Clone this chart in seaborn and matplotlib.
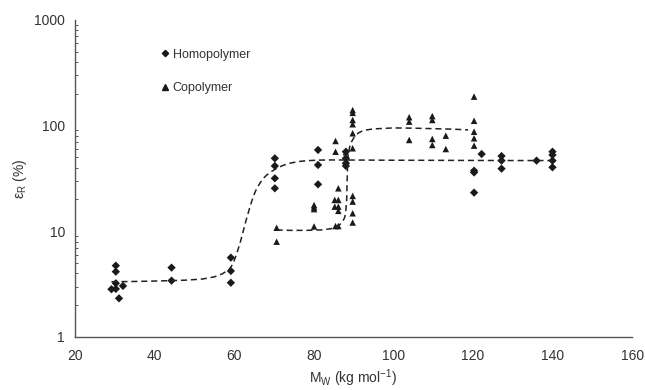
import numpy as np
import pandas as pd
import matplotlib
matplotlib.use("Agg")
import matplotlib.pyplot as plt
import seaborn as sns
from matplotlib.lines import Line2D
from matplotlib.ticker import LogLocator, NullFormatter

# ---- data ----
homo_mw = [30.3, 30.3, 30.3, 29.2, 30.3, 32.1, 31.1,
           44.3, 44.3,
           59.2, 59.2, 59.2,
           70.25, 70.25, 70.25, 70.25,
           81.1, 81.1, 81.1,
           88.1, 88.1, 88.1, 88.1,
           122.2, 120.3, 120.3, 120.3,
           127.2, 127.2, 127.2,
           136.0,
           140.0, 140.0, 140.0, 140.0]
homo_eps = [4.73, 4.15, 3.22, 2.83, 2.85, 3.04, 2.32,
            4.53, 3.41,
            5.63, 4.21, 3.26,
            49.0, 41.5, 31.7, 25.5,
            58.8, 42.4, 27.8,
            56.6, 49.0, 44.0, 41.5,
            53.8, 37.4, 36.0, 23.2,
            51.5, 46.6, 39.1,
            46.6,
            56.6, 52.7, 46.6, 40.3]

co_mw = [70.7, 70.7,
         80.1, 80.1, 80.1, 80.1,
         85.5, 85.5, 86.2,
         85.3, 85.3, 86.2, 86.2, 86.2,
         85.5, 86.2,
         89.8, 89.8, 89.8, 89.8, 89.8, 89.8, 89.8, 89.8, 89.8, 89.8,
         88.1,
         104.0, 104.0, 104.0,
         109.8, 109.8, 109.8, 109.8,
         113.2, 113.2,
         120.3, 120.3, 120.3, 120.3, 120.3]
co_eps = [10.8, 7.97,
          17.7, 16.9, 16.2, 11.1,
          71.5, 56.6, 25.5,
          19.8, 17.1, 19.8, 17.1, 15.6,
          11.2, 11.2,
          140, 132, 113, 103, 84.6, 61, 21.6, 19.1, 14.8, 12.1,
          56.0,
          120, 109, 73.1,
          123, 113, 74.7, 65.5,
          80.3, 60.0,
          188, 111, 87.5, 75.8, 64.6]

# dashed trend curves
homo_fit_mw = [29.2, 35, 40, 44, 48, 52, 55, 57, 58.8, 59.8, 60.7, 61.5, 62.3, 63.1,
               64.0, 64.8, 65.6, 66.5, 67.3, 68.2, 69.5, 70.7, 72.3, 74.0, 76.0,
               78.2, 81.0, 84.1, 90, 100, 110, 120, 130, 140]
homo_fit_eps = [3.33, 3.35, 3.38, 3.41, 3.45, 3.53, 3.7, 3.95, 4.35, 4.98, 6.2, 7.7,
                10.0, 13.0, 17.0, 21.2, 25.0, 28.5, 31.5, 34.0, 37.0, 39.4, 42.0, 44.0,
                45.6, 46.5, 47.1, 47.3, 47.2, 47.0, 46.9, 46.8, 46.7, 46.7]
co_fit_mw = [70.7, 74, 78, 82, 84.5, 85.8, 86.6, 87.3, 87.8, 88.1, 88.3, 88.4, 88.5,
             88.7, 89.0, 89.5, 90.2, 91.2, 92.5, 95, 100, 105, 110, 115, 118.8]
co_fit_eps = [10.3, 10.2, 10.2, 10.3, 10.6, 11.0, 11.6, 12.4, 13.5, 15.9, 20.0, 28.5,
              40.8, 52.0, 62.0, 70.0, 78.0, 85.0, 90.0, 93.0, 95.0, 94.5, 93.5, 92.5, 91.0]

x_ticks = [20, 40, 60, 80, 100, 120, 140, 160]
y_ticks = [1, 10, 100, 1000]
y_ticklabels = ["1", "10", "100", "1000"]

# ---- figure ----
sns.set_theme(style="white")
plt.rcParams["font.family"] = ["Liberation Sans", "DejaVu Sans"]

fig = plt.figure(figsize=(6.45, 3.9), dpi=100)
ax = fig.add_axes([0.116, 0.136, 0.864, 0.813])

mark_col = "#1a1a1a"
homo_df = pd.DataFrame({"Mw": homo_mw, "eps": homo_eps})
co_df = pd.DataFrame({"Mw": co_mw, "eps": co_eps})
sns.scatterplot(data=homo_df, x="Mw", y="eps", marker="D", color=mark_col,
                edgecolor="none", s=18, ax=ax, legend=False)
sns.scatterplot(data=co_df, x="Mw", y="eps", marker="^", color=mark_col,
                edgecolor="none", s=22, ax=ax, legend=False)

fit_h = pd.DataFrame({"Mw": homo_fit_mw, "eps": homo_fit_eps})
fit_c = pd.DataFrame({"Mw": co_fit_mw, "eps": co_fit_eps})
for f in (fit_h, fit_c):
    sns.lineplot(data=f, x="Mw", y="eps", color="#222222", lw=1.1,
                 linestyle=(0, (4, 2.5)), ax=ax, sort=False)

ax.set_yscale("log")
ax.set_xlim(20, 160)
ax.set_ylim(1, 1000)
ax.set_xticks(x_ticks)
ax.set_yticks(y_ticks)
ax.set_yticklabels(y_ticklabels)
ax.yaxis.set_minor_locator(LogLocator(base=10, subs=np.arange(2, 10)))
ax.yaxis.set_minor_formatter(NullFormatter())

for s in ("top", "right"):
    ax.spines[s].set_visible(False)
for s in ("left", "bottom"):
    ax.spines[s].set_color("#555555")
    ax.spines[s].set_linewidth(1.0)

ax.tick_params(axis="both", which="major", direction="in", length=4, width=0.8,
               colors="#555555", labelcolor="#333333", labelsize=10, pad=7)
ax.tick_params(axis="x", which="major", pad=9)
ax.tick_params(axis="y", which="minor", direction="in", length=2.5, width=0.7,
               colors="#555555", left=True)

ax.set_xlabel("M$_\\mathregular{W}$ (kg mol$^\\mathregular{-1}$)", fontsize=10,
              color="#333333", labelpad=3)
ax.set_ylabel("ε$_\\mathregular{R}$ (%)", fontsize=10, color="#333333", labelpad=4)

handles = [
    Line2D([], [], marker="D", linestyle="none", color=mark_col, markersize=3.2),
    Line2D([], [], marker="^", linestyle="none", color=mark_col, markersize=4.2),
]
ax.legend(handles, ["Homopolymer", "Copolymer"], loc="upper left",
          bbox_to_anchor=(0.135, 0.945), frameon=False, fontsize=9,
          handlelength=0.6, handletextpad=0.3, labelspacing=1.75,
          labelcolor="#333333")

fig.savefig("out.png", dpi=100)
